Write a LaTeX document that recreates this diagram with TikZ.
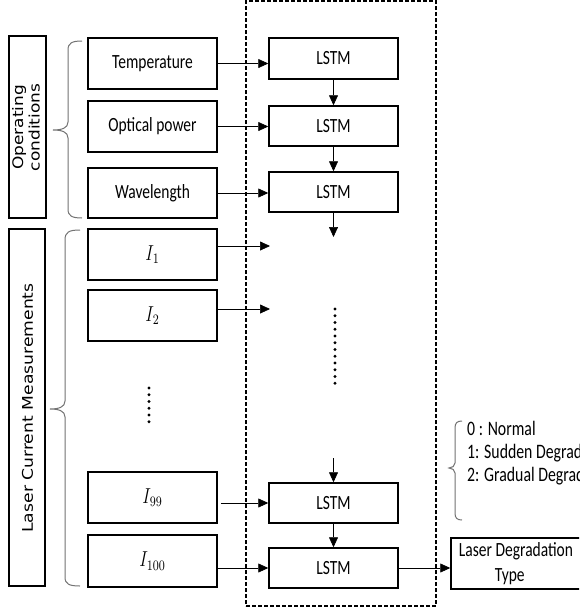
\RequirePackage{fix-cm}
\documentclass[tikz,border=0pt]{standalone}
\usepackage{fontspec}
\usepackage{graphicx}
\setmainfont{Carlito}
\newfontfamily\vfont{DejaVu Sans}
\usetikzlibrary{arrows.meta}
\newcommand\vs[1]{\scalebox{1}[1.3]{#1}}
\newcommand\mv[1]{\scalebox{1.42}[1.8]{$#1$}}
\tikzset{
  box/.style={draw, line width=1.5pt, minimum width=129pt, inner sep=0pt,
    font=\fontsize{15.5}{18}\selectfont},
  lstm/.style={box, minimum height=40pt},
  inbox/.style={box},
  side/.style={draw, line width=1.5pt, inner sep=0pt},
  arr/.style={-{Triangle[length=10pt,width=9pt]}, line width=0.7pt},
  brc/.style={draw=black!55, line width=1pt},
  dotcol/.style={line width=3.3pt, line cap=round, dash pattern=on 0pt off 6.75pt},
  mathlbl/.style={font=\fontsize{12}{14}\selectfont},
}
\begin{document}
\begin{tikzpicture}[x=1pt,y=-1pt]
\useasboundingbox (0,0) rectangle (579,611);
\clip (0,0) rectangle (579,611);
\fill[white] (0,0) rectangle (579,611);

% dashed frame
\node[draw, dash pattern=on 4pt off 2pt, line width=1.3pt,
  minimum width=190pt, minimum height=605pt, inner sep=0pt] (frame) at (341,303.5) {};

% side label boxes
\node[side, minimum width=37pt, minimum height=182pt] (op) at (27.5,127) {};
\node[rotate=90] (optext) at (28,127.5) {\scalebox{1.17}[1]{\vfont\fontsize{14.5}{16.5}\selectfont
  \begin{tabular}{@{}c@{}}Operating\\conditions\end{tabular}}};
\node[side, minimum width=36pt, minimum height=357pt] (lcm) at (27,407.5) {};
\node[rotate=90] (lcmtext) at (27.5,408) {\scalebox{1.17}[1]{\vfont\fontsize{14.7}{16.5}\selectfont Laser Current Measurements}};

% braces
\draw[brc] (82,41) .. controls (72,41) and (68,43) .. (68,50) -- (68,122)
  .. controls (68,128) and (62,130) .. (53,130)
  .. controls (62,130) and (68,132) .. (68,138) -- (68,209)
  .. controls (68,216) and (72,218) .. (82,218);
\draw[brc] (80,230) .. controls (69,230) and (65,232) .. (65,240) -- (65,401)
  .. controls (65,407) and (59,409) .. (50,409)
  .. controls (59,409) and (65,411) .. (65,417) -- (65,577)
  .. controls (65,584) and (69,586) .. (80,586);
\draw[brc] (462,421) .. controls (457,421) and (455,423) .. (455,428) -- (455,463)
  .. controls (455,466) and (452,468) .. (449,468)
  .. controls (452,468) and (455,470) .. (455,473) -- (455,513)
  .. controls (455,518) and (457,520) .. (462,520);

% input boxes
\node[inbox, minimum height=51pt] (temp) at (152.5,63.5) {\vs{Temperature}};
\node[inbox, minimum height=51pt] (opt) at (152.5,126.5) {\vs{Optical power}};
\node[inbox, minimum height=50pt] (wave) at (152.5,193) {\vs{Wavelength}};
\node[inbox, minimum height=51pt, mathlbl] (i1) at (152.5,254.5) {\mv{I_{1}}};
\node[inbox, minimum height=51pt, mathlbl] (i2) at (152.5,315.5) {\mv{I_{2}}};
\node[inbox, minimum height=51pt, mathlbl] (i99) at (152.5,497.5) {\mv{I_{99}}};
\node[inbox, minimum height=52pt, mathlbl] (i100) at (152.5,561) {\mv{I_{100}}};

% LSTM boxes
\node[lstm, minimum height=41pt] (l1) at (333.5,58.5) {\vs{LSTM}};
\node[lstm] (l2) at (333.5,126) {\vs{LSTM}};
\node[lstm] (l3) at (333.5,192) {\vs{LSTM}};
\node[lstm] (l99) at (333.5,503) {\vs{LSTM}};
\node[lstm] (l100) at (333.5,568) {\vs{LSTM}};

% output box (right edge lies beyond the picture)
\node[box, minimum width=145pt, minimum height=51pt] (out) at (523.5,563.5) {};
\node[inner sep=0pt] (outtext) at (516,564)
  {\scalebox{1}[1.3]{\fontsize{15.5}{19}\selectfont\begin{tabular}{@{}l@{}}Laser Degradation\\\hspace*{36pt}Type\end{tabular}}};

% legend
\node[anchor=west, inner sep=0pt] (legend) at (467,454)
  {\scalebox{1}[1.3]{\fontsize{15.8}{17.5}\selectfont\begin{tabular}{@{}l@{}}0 : Normal\\1: Sudden Degradation\\2: Gradual Degradation\end{tabular}}};

% free ends
\coordinate (e1) at (270,246);
\coordinate (e2) at (270,309);
\coordinate (d3) at (333.5,237);
\coordinate (s99) at (333.5,458);

% horizontal arrows
\draw[arr] (temp.east) -- (temp.east -| l1.west);
\draw[arr] (opt.east) -- (opt.east -| l2.west);
\draw[arr] (wave.east) -- (wave.east -| l3.west);
\draw[arr] (i1.east |- e1) -- (e1);
\draw[arr] (i2.east |- e2) -- (e2);
\draw[arr] ([xshift=3pt]i99.east |- l99.west) -- (l99.west);
\draw[arr] (i100.east |- l100.west) -- (l100.west);
\draw[arr] (l100.east) -- (out.west |- l100.east);

% vertical arrows
\draw[arr] (l1.south) -- (l2.north);
\draw[arr] (l2.south) -- (l3.north);
\draw[arr] (l3.south) -- (d3);
\draw[arr] (s99) -- (l99.north);
\draw[arr] (l99.south) -- (l100.north);

% dots
\draw[dotcol] (149,388) -- (149,428.5);
\draw[dotcol] (335,309) -- (335,390);
\end{tikzpicture}
\end{document}
